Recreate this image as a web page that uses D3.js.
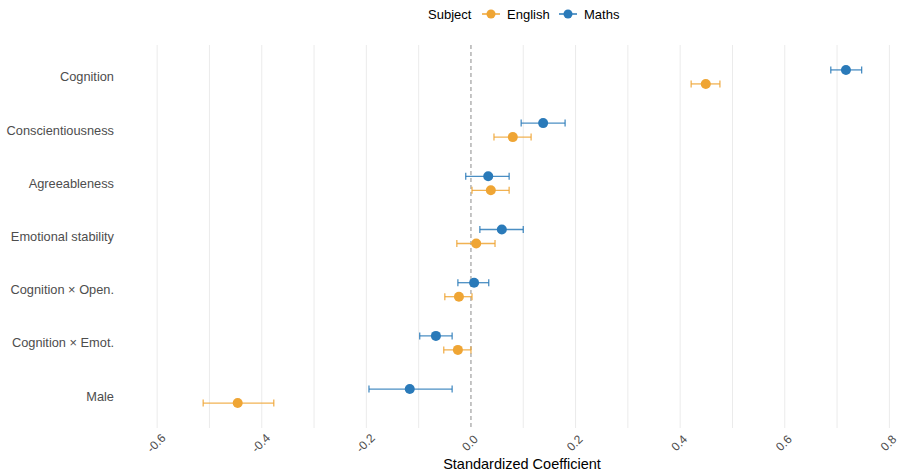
<!DOCTYPE html>
<html>
<head>
<meta charset="utf-8">
<script src="https://cdn.jsdelivr.net/npm/d3@7"></script>
<style>
    body { margin: 0; background: #fff; font-family: "Liberation Sans", Arial, sans-serif; }
    .grid line { stroke: #ebebeb; stroke-width: 1; }
    .y-axis text { fill: #4d4d4d; font-size: 12.8px; }
    .x-axis text { fill: #4d4d4d; font-size: 12px; }
</style>
</head>
<body>
<svg id="chart"></svg>
<script>
// Predictors, top to bottom
const predictors = ["Cognition", "Conscientiousness", "Agreeableness", "Emotional stability",
    "Cognition × Open.", "Cognition × Emot.", "Male"];

const subjects = ["English", "Maths"];
const subjectColors = ["#efa534", "#2a7ab9"];

// estimates and 95% intervals, same order as predictors
const englishEst = [0.449, 0.080, 0.038, 0.010, -0.023, -0.025, -0.446];
const englishLow = [0.421, 0.044, 0.002, -0.027, -0.050, -0.052, -0.512];
const englishHigh = [0.476, 0.115, 0.073, 0.046, 0.002, 0.000, -0.377];

const mathsEst = [0.717, 0.138, 0.033, 0.059, 0.006, -0.067, -0.117];
const mathsLow = [0.688, 0.096, -0.010, 0.017, -0.025, -0.098, -0.195];
const mathsHigh = [0.747, 0.180, 0.073, 0.100, 0.034, -0.036, -0.036];

const xTicks = [-0.6, -0.4, -0.2, 0.0, 0.2, 0.4, 0.6, 0.8];
const xMinorTicks = [-0.5, -0.3, -0.1, 0.1, 0.3, 0.5, 0.7];

class ForestPlot {
    constructor(_config, _data) {
        this.config = {
            parentElement: _config.parentElement,
            containerWidth: _config.containerWidth || 898,
            containerHeight: _config.containerHeight || 472,
            margin: _config.margin || {top: 45, right: 0, bottom: 44, left: 131}
        }
        this.data = _data;
        this.initVis();
    }

    initVis() {
        let vis = this;
        vis.width = vis.config.containerWidth - vis.config.margin.left - vis.config.margin.right;
        vis.height = vis.config.containerHeight - vis.config.margin.top - vis.config.margin.bottom;

        vis.svg = d3.select(vis.config.parentElement)
            .attr('width', vis.config.containerWidth)
            .attr('height', vis.config.containerHeight);

        vis.chart = vis.svg.append('g')
            .attr('transform', `translate(${vis.config.margin.left},${vis.config.margin.top})`);

        // 0 sits at x=471 in the page, 0.1 is about 52.3px
        vis.xScale = d3.scaleLinear()
            .domain([-0.650, 0.8165])
            .range([0, vis.width]);

        vis.yScale = d3.scaleBand()
            .domain(predictors)
            .range([0, vis.height])
            .paddingOuter(0.1)
            .paddingInner(0);

        vis.colorScale = d3.scaleOrdinal().domain(subjects).range(subjectColors);

        // grid
        let grid = vis.chart.append('g').attr('class', 'grid');
        grid.selectAll('line')
            .data(xTicks.concat(xMinorTicks).filter(d => d !== 0))
            .join('line')
            .attr('x1', d => vis.xScale(d))
            .attr('x2', d => vis.xScale(d))
            .attr('y1', 0)
            .attr('y2', vis.height);

        // zero line
        vis.chart.append('line')
            .attr('x1', vis.xScale(0))
            .attr('x2', vis.xScale(0))
            .attr('y1', 0)
            .attr('y2', vis.height)
            .attr('stroke', '#8c8c8c')
            .attr('stroke-width', 1)
            .attr('stroke-dasharray', '4,3');

        // y labels
        vis.chart.append('g')
            .attr('class', 'y-axis')
            .selectAll('text')
            .data(predictors)
            .join('text')
            .attr('x', -17)
            .attr('y', d => vis.yScale(d) + vis.yScale.bandwidth() / 2)
            .attr('dy', '0.35em')
            .attr('text-anchor', 'end')
            .text(d => d);

        // x tick labels, rotated
        vis.chart.append('g')
            .attr('class', 'x-axis')
            .selectAll('text')
            .data(xTicks)
            .join('text')
            .attr('transform', d => `translate(${vis.xScale(d) - 1},${vis.height + 15}) rotate(-45)`)
            .attr('text-anchor', 'middle')
            .attr('dy', '0.35em')
            .text(d => d3.format('.1f')(d).replace('−', '-'));

        // X-Axis Label
        vis.svg.append('text')
            .attr('x', 522)
            .attr('y', vis.config.containerHeight - 3)
            .attr('text-anchor', 'middle')
            .style('font-size', '14.5px')
            .style('fill', '#000')
            .text('Standardized Coefficient');

        // Legend
        let legend = vis.svg.append('g').attr('transform', 'translate(428,14)');
        legend.append('text')
            .attr('x', 0).attr('dy', '0.35em')
            .style('font-size', '13px').style('fill', '#000')
            .text('Subject');
        let keyX = [63, 140];
        let keys = legend.selectAll('.key')
            .data(subjects)
            .join('g')
            .attr('class', 'key')
            .attr('transform', (d, i) => `translate(${keyX[i]},0)`);
        keys.append('line')
            .attr('x1', -9).attr('x2', 9)
            .attr('stroke', d => vis.colorScale(d))
            .attr('stroke-width', 1.5);
        keys.append('circle')
            .attr('r', 4.5)
            .attr('fill', d => vis.colorScale(d));
        keys.append('text')
            .attr('x', 16).attr('dy', '0.35em')
            .style('font-size', '13px').style('fill', '#000')
            .text(d => d);

        vis.renderVis();
    }

    renderVis() {
        let vis = this;
        let dodge = d => d.subject === 'Maths' ? -7 : 7;
        let yPos = d => vis.yScale(d.predictor) + vis.yScale.bandwidth() / 2 + dodge(d);

        let marks = vis.chart.selectAll('.mark')
            .data(vis.data)
            .join('g')
            .attr('class', 'mark');

        marks.append('line')
            .attr('x1', d => vis.xScale(d.low))
            .attr('x2', d => vis.xScale(d.high))
            .attr('y1', yPos)
            .attr('y2', yPos)
            .attr('stroke', d => vis.colorScale(d.subject))
            .attr('stroke-opacity', 0.85)
            .attr('stroke-width', 1.3);

        ['low', 'high'].forEach(end => {
            marks.append('line')
                .attr('x1', d => vis.xScale(d[end]))
                .attr('x2', d => vis.xScale(d[end]))
                .attr('y1', d => yPos(d) - 3.5)
                .attr('y2', d => yPos(d) + 3.5)
                .attr('stroke', d => vis.colorScale(d.subject))
                .attr('stroke-opacity', 0.85)
                .attr('stroke-width', 1.3);
        });

        marks.append('circle')
            .attr('cx', d => vis.xScale(d.est))
            .attr('cy', yPos)
            .attr('r', 5)
            .attr('fill', d => vis.colorScale(d.subject));
    }
}

let rows = [];
predictors.forEach((p, i) => {
    rows.push({predictor: p, subject: 'English', est: englishEst[i], low: englishLow[i], high: englishHigh[i]});
    rows.push({predictor: p, subject: 'Maths', est: mathsEst[i], low: mathsLow[i], high: mathsHigh[i]});
});

let plot = new ForestPlot({parentElement: '#chart'}, rows);
</script>
</body>
</html>
